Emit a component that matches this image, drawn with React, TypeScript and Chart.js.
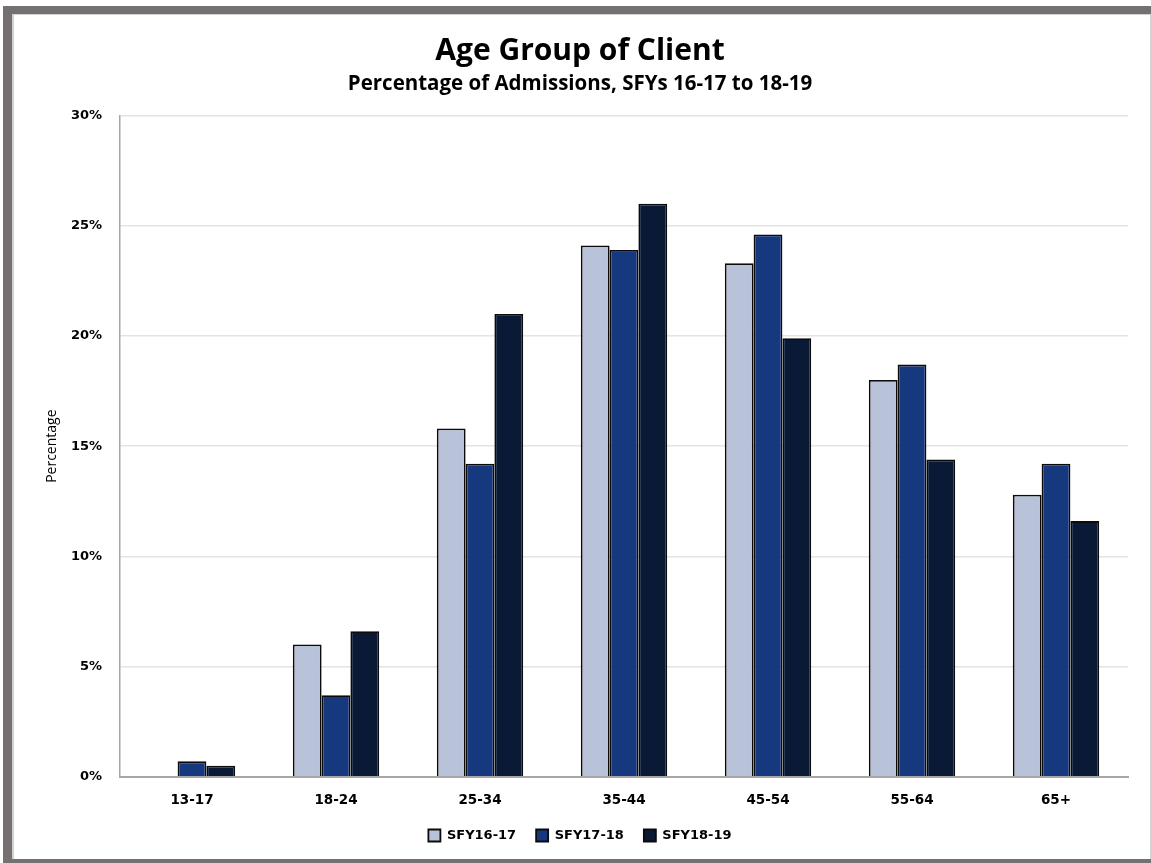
import React, { useEffect, useRef } from "react";
import { Chart, registerables } from "chart.js";

Chart.register(...registerables);

// Age groups on the category axis
const ageGroups = ["13-17", "18-24", "25-34", "35-44", "45-54", "55-64", "65+"];

// Share of admissions (%) per state fiscal year
const sfy1617 = [0, 6.0, 15.8, 24.1, 23.3, 18.0, 12.8];
const sfy1718 = [0.7, 3.7, 14.2, 23.9, 24.6, 18.7, 14.2];
const sfy1819 = [0.5, 6.6, 21.0, 26.0, 19.9, 14.4, 11.6];

const seriesLabels = ["SFY16-17", "SFY17-18", "SFY18-19"];
const seriesColors = ["#B8C3D9", "#15387E", "#0A1935"];

const yTicks = [0, 5, 10, 15, 20, 25, 30];

const W = 1151;
const H = 863;

export default function App() {
  const canvasRef = useRef<HTMLCanvasElement | null>(null);

  useEffect(() => {
    const canvas = canvasRef.current;
    if (!canvas) return;
    const values = [sfy1617, sfy1718, sfy1819];
    const chart = new Chart(canvas, {
      type: "bar",
      data: {
        labels: ageGroups,
        datasets: values.map((data, i) => ({
          label: seriesLabels[i],
          data,
          backgroundColor: seriesColors[i],
          borderColor: "#0b0b0b",
          borderWidth: 1.8,
          categoryPercentage: 0.6,
          barPercentage: 1.0,
        })),
      },
      options: {
        responsive: false,
        animation: false,
        layout: { padding: { left: 32, right: 23, top: 0, bottom: 11 } },
        scales: {
          x: {
            grid: { display: false, drawTicks: false },
            border: { display: true, color: "#a6a6a6", width: 2 },
            ticks: {
              color: "#000",
              padding: 16,
              font: { family: "DejaVu Sans", size: 13.5, weight: "bold" },
            },
            afterFit: (scale: any) => {
              scale.height = scale.height - 16;
            },
          },
          y: {
            min: 0,
            max: 30,
            afterBuildTicks: (scale: any) => {
              scale.ticks = yTicks.map((v) => ({ value: v }));
            },
            afterFit: (scale: any) => {
              scale.width = 88;
            },
            grid: { color: "#e4e4e4", lineWidth: 1.5, drawTicks: false },
            border: { display: true, color: "#a6a6a6", width: 1.5 },
            ticks: {
              color: "#000",
              padding: 18,
              font: { family: "DejaVu Sans", size: 13, weight: "bold" },
              callback: (v: any) => `${v}%`,
            },
            title: {
              display: true,
              text: "Percentage",
              color: "#000",
              font: { family: "Open Sans", size: 14 },
              padding: { top: 12, bottom: 0 },
            },
          },
        },
        plugins: {
          title: {
            display: true,
            text: "Age Group of Client",
            color: "#000",
            font: { family: "Open Sans", size: 30, weight: "bold", lineHeight: 1.0 },
            padding: { top: 36, bottom: 0 },
          },
          subtitle: {
            display: true,
            text: "Percentage of Admissions, SFYs 16-17 to 18-19",
            color: "#000",
            font: { family: "Open Sans", size: 20.5, weight: "bold", lineHeight: 1.0 },
            padding: { top: 8, bottom: 21 },
          },
          legend: {
            position: "bottom",
            labels: {
              boxWidth: 12,
              boxHeight: 12,
              padding: 20,
              color: "#000",
              font: { family: "DejaVu Sans", size: 13, weight: "bold" },
            },
          },
          tooltip: { enabled: false },
        },
      },
    });
    return () => chart.destroy();
  }, []);

  return (
    <div
      style={{
        position: "fixed",
        left: 0,
        top: 0,
        width: W,
        height: H,
        overflow: "hidden",
        background: "#fff",
      }}
    >
      <div
        style={{
          position: "absolute",
          left: 3,
          top: 6,
          width: 1200,
          height: 861,
          boxSizing: "border-box",
          borderLeft: "9px solid #767171",
          borderTop: "8px solid #767171",
          borderBottom: "8px solid #767171",
        }}
      >
        <div
          style={{
            position: "absolute",
            left: 0,
            top: 0,
            right: 0,
            bottom: 0,
            borderLeft: "2px solid #d2d2d2",
            borderTop: "1px solid #d2d2d2",
          }}
        />
      </div>
      <div
        style={{
          position: "absolute",
          left: 1150,
          top: 14,
          width: 1,
          height: 845,
          background: "#d2d2d2",
        }}
      />
      <canvas
        ref={canvasRef}
        width={W}
        height={H}
        style={{ position: "absolute", left: 0, top: 0, width: W, height: H }}
      />
    </div>
  );
}
